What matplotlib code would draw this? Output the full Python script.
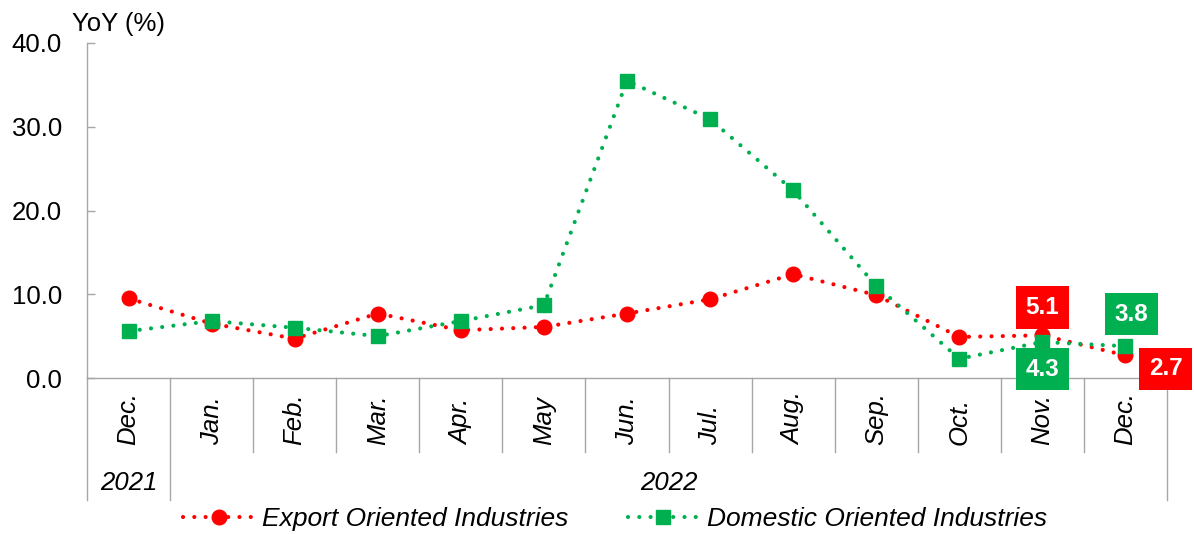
import matplotlib
matplotlib.use("Agg")
import matplotlib.pyplot as plt
import numpy as np

months = ["Dec.", "Jan.", "Feb.", "Mar.", "Apr.", "May", "Jun.",
          "Jul.", "Aug.", "Sep.", "Oct.", "Nov.", "Dec."]
years = ["2021", "2022"]
year_spans = [(0, 0), (1, 12)]
export_vals = [9.5, 6.5, 4.7, 7.7, 5.7, 6.1, 7.7, 9.4, 12.4, 9.9, 4.9, 5.1, 2.7]
domestic_vals = [5.6, 6.8, 6.0, 5.0, 6.8, 8.7, 35.5, 30.9, 22.4, 11.0, 2.3, 4.3, 3.8]
export_name = "Export Oriented Industries"
domestic_name = "Domestic Oriented Industries"

red = "#FF0000"
green = "#00B050"
grey = "#A6A6A6"
fs = 18.5

plt.rcParams['font.family'] = ['Liberation Sans', 'DejaVu Sans']

fig = plt.figure(figsize=(11.94, 5.34), dpi=100)
ax = fig.add_axes([87 / 1194, 1 - 378 / 534, 1080 / 1194, 335 / 534])

x = np.arange(len(months))
dots = (0, (0.01, 2.7))
ax.plot(x, export_vals, color=red, lw=3.0, linestyle=dots, dash_capstyle='round',
        marker='o', ms=10.5, label=export_name, zorder=3)
ax.plot(x, domestic_vals, color=green, lw=3.0, linestyle=dots, dash_capstyle='round',
        marker='s', ms=10, label=domestic_name, zorder=4)

ax.set_xlim(-0.5, len(months) - 0.5)
ax.set_ylim(0, 40)
ax.set_yticks([0, 10, 20, 30, 40])
ax.set_yticklabels(["%.1f" % v for v in [0, 10, 20, 30, 40]], fontsize=fs)
ax.tick_params(axis='y', direction='in', length=6, width=1, color=grey, pad=18)
ax.set_xticks([])
for s in ['top', 'right']:
    ax.spines[s].set_visible(False)
for s in ['left', 'bottom']:
    ax.spines[s].set_color(grey)
    ax.spines[s].set_linewidth(1.0)

# category separators and labels below the axis
trans = ax.get_xaxis_transform()
outer = {-0.5}
for a, b in year_spans:
    outer.add(b + 0.5)
for k in range(len(months) + 1):
    xb = k - 0.5
    y_end = -0.364 if xb in outer else -0.221
    ax.plot([xb, xb], [0, y_end], color=grey, lw=1.0, transform=trans, clip_on=False)
for i, m in enumerate(months):
    ax.text(i, -0.2, m, rotation=90, ha='center', va='bottom', fontsize=fs,
            style='italic', transform=trans)
for yr, (a, b) in zip(years, year_spans):
    ax.text((a + b) / 2, -0.313, yr, ha='center', va='center', fontsize=fs,
            style='italic', transform=trans)

# value labels
labels = [
    (11, export_vals[11], red, 0, 20),
    (11, domestic_vals[11], green, 0, -19.5),
    (12, domestic_vals[12], green, 4.3, 23),
    (12, export_vals[12], red, 29, -9.8),
]
for i, v, c, dx, dy in labels:
    ax.annotate("%.1f" % v, xy=(i, v), xytext=(dx, dy), textcoords='offset points',
                ha='center', va='center', fontsize=17.5, fontweight='bold', color='white',
                bbox=dict(boxstyle='square,pad=0.4', fc=c, ec='none'),
                zorder=6, annotation_clip=False)

fig.text(72 / 1194, 1 - 31 / 534, "YoY (%)", ha='left', va='baseline', fontsize=fs)

leg = fig.legend(loc='center', bbox_to_anchor=(615 / 1194, 1 - 519 / 534), ncol=2, frameon=False,
                 prop={'size': 19, 'style': 'italic'}, handlelength=2.7,
                 columnspacing=2.25, handletextpad=0.3, borderaxespad=0)

fig.savefig("out.png", dpi=100)
